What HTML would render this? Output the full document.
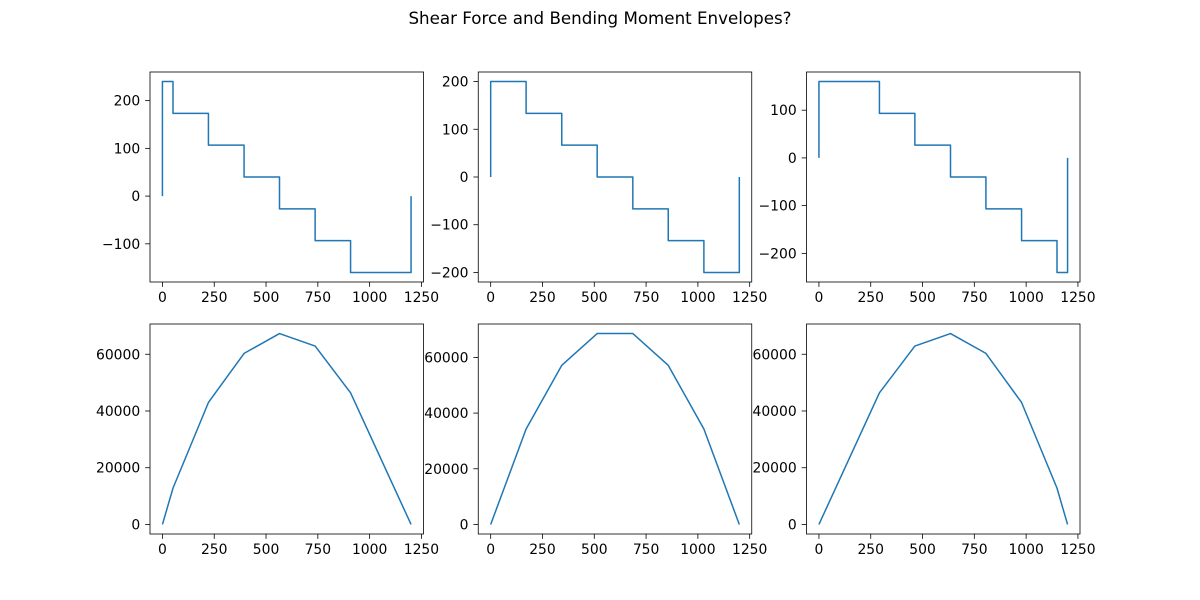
<!DOCTYPE html>
<html><head><meta charset="utf-8">
<style>
html,body{margin:0;padding:0;background:#fff;}
svg{display:block;font-family:"DejaVu Sans","Liberation Sans",sans-serif;}
</style></head>
<body>
<svg id="fig" width="1200" height="600" viewBox="0 0 1200 600">
<text x="600" y="24" text-anchor="middle" font-size="16.7" fill="#000">Shear Force and Bending Moment Envelopes?</text>
</svg>
<script>
// Chart data
const shear1X = [0, 0, 51, 51, 222, 222, 394, 394, 565, 565, 737, 737, 908, 908, 1200, 1200];
const shear1Y = [0, 240, 240, 173.3, 173.3, 106.7, 106.7, 40, 40, -26.7, -26.7, -93.3, -93.3, -160, -160, 0];
const shear2X = [0, 0, 171, 171, 343, 343, 514, 514, 686, 686, 857, 857, 1029, 1029, 1200, 1200];
const shear2Y = [0, 200, 200, 133.3, 133.3, 66.7, 66.7, 0, 0, -66.7, -66.7, -133.3, -133.3, -200, -200, 0];
const shear3X = [0, 0, 292, 292, 463, 463, 635, 635, 806, 806, 978, 978, 1149, 1149, 1200, 1200];
const shear3Y = [0, 160, 160, 93.3, 93.3, 26.7, 26.7, -40, -40, -106.7, -106.7, -173.3, -173.3, -240, -240, 0];
const moment1X = [0, 51, 222, 394, 565, 737, 908, 1200];
const moment1Y = [0, 12800, 43000, 60300, 67300, 62900, 46400, 0];
const moment2X = [0, 171, 343, 514, 686, 857, 1029, 1200];
const moment2Y = [0, 34286, 57143, 68571, 68571, 57143, 34286, 0];
const moment3X = [0, 292, 463, 635, 806, 978, 1149, 1200];
const moment3Y = [0, 46400, 62900, 67300, 60300, 43000, 12800, 0];
const xTicks = [0, 250, 500, 750, 1000, 1250];
const shear1Ticks = [-100, 0, 100, 200];
const shear2Ticks = [-200, -100, 0, 100, 200];
const shear3Ticks = [-200, -100, 0, 100];
const momentTicks = [0, 20000, 40000, 60000];

const NS = "http://www.w3.org/2000/svg";
const svg = document.getElementById('fig');
function mk(tag, attrs, parent) {
  const e = document.createElementNS(NS, tag);
  for (const k in attrs) e.setAttribute(k, attrs[k]);
  (parent || svg).appendChild(e);
  return e;
}
function fmt(v){ return v < 0 ? '\u2212' + Math.abs(v) : String(v); }

function plot(name, left, top, xs, ys, yTicks) {
  const W = 273.5, H = 210;
  const xmin = Math.min(...xs), xmax = Math.max(...xs);
  const ymin = Math.min(...ys), ymax = Math.max(...ys);
  const xm = (xmax - xmin) * 0.05, ym = (ymax - ymin) * 0.05;
  const X = v => left + (v - (xmin - xm)) / ((xmax + xm) - (xmin - xm)) * W;
  const Y = v => top + H - (v - (ymin - ym)) / ((ymax + ym) - (ymin - ym)) * H;
  const g = mk('g', {});
  
  
  const pts = xs.map((x, i) => X(x).toFixed(2) + ',' + Y(ys[i]).toFixed(2)).join(' ');
  const line = mk('polyline', {points: pts, fill: 'none', stroke: '#1f77b4', 'stroke-width': 1.5, 'stroke-linejoin': 'round'}, g);
  
  
  const frame = mk('rect', {x: left, y: top, width: W, height: H, fill: 'none', stroke: '#000', 'stroke-width': 0.8}, g);
  
  
  xTicks.forEach(t => {
    const px = X(t);
    mk('line', {x1: px, x2: px, y1: top + H, y2: top + H + 4.86, stroke: '#000', 'stroke-width': 0.8}, g);
    const tx = mk('text', {x: px, y: top + H + 19.8, 'text-anchor': 'middle', 'font-size': 13.9, fill: '#000'}, g);
    tx.textContent = fmt(t);
    
    
  });
  yTicks.forEach(t => {
    const py = Y(t);
    mk('line', {x1: left - 4.86, x2: left, y1: py, y2: py, stroke: '#000', 'stroke-width': 0.8}, g);
    const ty = mk('text', {x: left - 9.8, y: py + 5, 'text-anchor': 'end', 'font-size': 13.9, fill: '#000'}, g);
    ty.textContent = fmt(t);
    
    
  });
}
const lefts = [150, 478.25, 806.5];
plot('shear-plot-1', lefts[0], 72, shear1X, shear1Y, shear1Ticks);
plot('shear-plot-2', lefts[1], 72, shear2X, shear2Y, shear2Ticks);
plot('shear-plot-3', lefts[2], 72, shear3X, shear3Y, shear3Ticks);
plot('moment-plot-1', lefts[0], 324, moment1X, moment1Y, momentTicks);
plot('moment-plot-2', lefts[1], 324, moment2X, moment2Y, momentTicks);
plot('moment-plot-3', lefts[2], 324, moment3X, moment3Y, momentTicks);
</script>
</body></html>
